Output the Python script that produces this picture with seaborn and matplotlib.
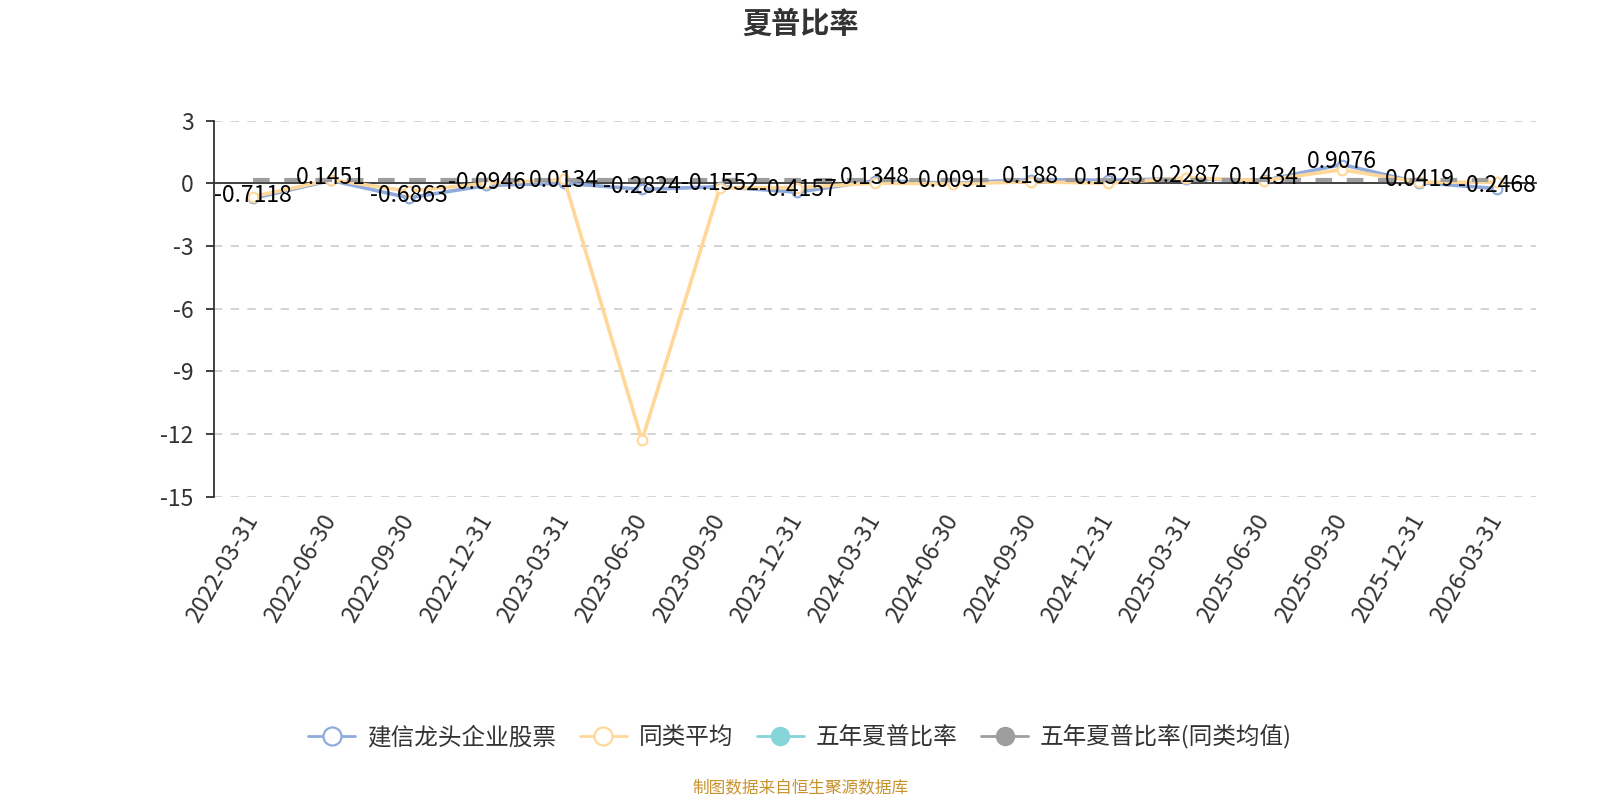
import numpy as np
import pandas as pd
import seaborn as sns
import matplotlib
matplotlib.use("Agg")
import matplotlib.pyplot as plt
from matplotlib.lines import Line2D

# ---------------- data ----------------
dates = ["2022-03-31", "2022-06-30", "2022-09-30", "2022-12-31", "2023-03-31",
         "2023-06-30", "2023-09-30", "2023-12-31", "2024-03-31", "2024-06-30",
         "2024-09-30", "2024-12-31", "2025-03-31", "2025-06-30", "2025-09-30",
         "2025-12-31", "2026-03-31"]
fund = [-0.7118, 0.1451, -0.6863, -0.0946, 0.0134, -0.2824, -0.1552, -0.4157,
        0.1348, 0.0091, 0.188, 0.1525, 0.2287, 0.1434, 0.9076, 0.0419, -0.2468]
peer_avg = [-0.63, 0.18, -0.37, 0.01, 0.19, -12.3, -0.22, -0.20,
            0.02, -0.02, 0.08, 0.01, 0.27, 0.14, 0.66, 0.06, 0.06]
five_year = [np.nan] * 17
five_year_peer = [0.18] * 17

series_names = ["建信龙头企业股票", "同类平均", "五年夏普比率", "五年夏普比率(同类均值)"]
colors = ["#8FAADC", "#FFD899", "#86D5D8", "#9E9E9E"]
yticks = [3, 0, -3, -6, -9, -12, -15]

# ---------------- style ----------------
sns.set_theme(style="white")
plt.rcParams["font.family"] = ["Noto Sans CJK SC", "DejaVu Sans"]
plt.rcParams["axes.unicode_minus"] = False

fig = plt.figure(figsize=(16, 8), dpi=100)
ax = fig.add_axes([0.134, 0.379, 0.826, 0.470])

x = np.arange(len(dates))
df = pd.DataFrame({"x": x, "fund": fund, "peer": peer_avg,
                   "fy": five_year, "fyp": five_year_peer})

sns.lineplot(data=df, x="x", y="fund", ax=ax, color=colors[0], lw=2.6,
             marker="o", markersize=7, markerfacecolor="white",
             markeredgecolor=colors[0], markeredgewidth=1.5, zorder=3)
sns.lineplot(data=df, x="x", y="peer", ax=ax, color=colors[1], lw=2.6,
             marker="o", markersize=7, markerfacecolor="white",
             markeredgecolor=colors[1], markeredgewidth=1.5, zorder=4)
sns.lineplot(data=df, x="x", y="fyp", ax=ax, color=colors[3], lw=3,
             dashes=False, zorder=5)
ax.lines[-1].set_dashes([4, 3.5])

# data labels for fund
for xi, v in zip(x, fund):
    ax.annotate(f"{v:g}", (xi, v), xytext=(0, 2), textcoords="offset points",
                ha="center", va="center", fontsize=16.5, color="black", zorder=6)

# axes
ax.set_xlim(-0.5, len(dates) - 0.5)
ax.set_ylim(-15, 3)
ax.set_yticks(yticks, labels=[str(t) for t in yticks])
ax.set_xlabel("")
ax.set_ylabel("")
for t in yticks:
    if t != 0:
        ax.axhline(t, color="#CCCCCC", lw=1.2, ls=(0, (5, 5)), zorder=1)

for s in ["top", "right"]:
    ax.spines[s].set_visible(False)
ax.spines["left"].set_color("#333333")
ax.spines["left"].set_linewidth(1.3)
ax.spines["bottom"].set_position(("data", 0))
ax.spines["bottom"].set_color("#333333")
ax.spines["bottom"].set_linewidth(1.3)
ax.spines["bottom"].set_zorder(2)

ax.set_xticks(np.arange(-0.5, len(dates), 1.0))
ax.tick_params(axis="x", which="major", direction="out", length=6, width=1.3,
               color="#333333", labelbottom=False)
ax.tick_params(axis="y", direction="out", length=6, width=1.3, color="#333333",
               labelsize=16.5, labelcolor="#333333", pad=9, left=True)

sec = ax.secondary_xaxis(0)
sec.set_xticks(x)
sec.set_xticklabels(dates, rotation=60, ha="right", va="center",
                    rotation_mode="anchor", fontsize=17, color="#333333")
sec.tick_params(length=0, pad=14)
sec.spines["bottom"].set_visible(False)

# title
fig.text(0.5, 1 - 24 / 800, "夏普比率", ha="center", va="center",
         fontsize=21, fontweight="bold", color="#333333")

# legend
handles = [
    Line2D([0], [0], color=colors[0], lw=2, marker="o", markersize=13,
           markerfacecolor="white", markeredgecolor=colors[0], markeredgewidth=1.6),
    Line2D([0], [0], color=colors[1], lw=2, marker="o", markersize=13,
           markerfacecolor="white", markeredgecolor=colors[1], markeredgewidth=1.6),
    Line2D([0], [0], color=colors[2], lw=2, marker="o", markersize=13,
           markerfacecolor=colors[2], markeredgecolor=colors[2]),
    Line2D([0], [0], color=colors[3], lw=2, marker="o", markersize=13,
           markerfacecolor=colors[3], markeredgecolor=colors[3]),
]
leg = fig.legend(handles, series_names, loc="center",
                 bbox_to_anchor=(0.5, 1 - 737 / 800), ncol=4, frameon=False,
                 fontsize=17, handlelength=2.0, handletextpad=0.5,
                 columnspacing=1.0, labelcolor="#333333")

# footer
fig.text(0.5, 1 - 789 / 800, "制图数据来自恒生聚源数据库", ha="center", va="center",
         fontsize=12, color="#C8922C")

fig.savefig("out.png", dpi=100)
